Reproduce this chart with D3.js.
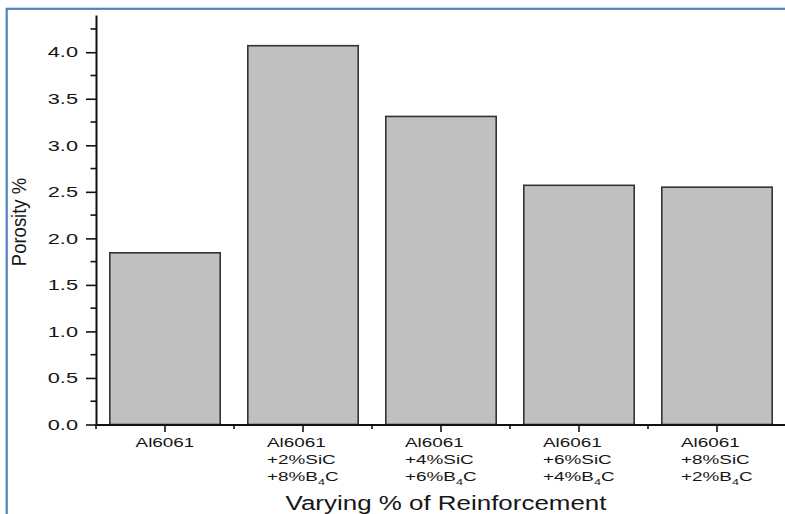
<!DOCTYPE html>
<html>
<head>
<meta charset="utf-8">
<script src="https://cdn.jsdelivr.net/npm/d3@7"></script>
<style>
  body { margin: 0; background: #fff; }
  text { font-family: "Liberation Sans", Arial, sans-serif; fill: #161616; }
</style>
</head>
<body>
<div id="chart"></div>
<script>
// data
const categories = ['Al6061', 'Al6061 +2%SiC +8%B4C', 'Al6061 +4%SiC +6%B4C', 'Al6061 +6%SiC +4%B4C', 'Al6061 +8%SiC +2%B4C'];
const porosity = [1.845, 4.07, 3.31, 2.57, 2.55];
const yTicks = [0, 0.5, 1.0, 1.5, 2.0, 2.5, 3.0, 3.5, 4.0];
const yMinorTicks = [0.25, 0.75, 1.25, 1.75, 2.25, 2.75, 3.25, 3.75, 4.25];
const yLabel = 'Porosity %';
const xLabel = 'Varying % of Reinforcement';

const width = 785, height = 514;
const margin = { left: 96, top: 15, right: -1, bottom: 89.5 };
const plotW = width - margin.left - margin.right;
const plotH = height - margin.top - margin.bottom;

const svg = d3.select('#chart')
  .append('svg')
  .attr('width', width)
  .attr('height', height);

// blue frame, cut off at the right and bottom
svg.append('rect')
  .attr('x', 6.7)
  .attr('y', 8.8)
  .attr('width', width + 20)
  .attr('height', height + 20)
  .attr('fill', 'none')
  .attr('stroke', '#4f81bd')
  .attr('stroke-width', 2.2);

const x = d3.scaleBand()
  .domain(categories)
  .range([0, plotW])
  .paddingInner(0.2)
  .paddingOuter(0.1);

const y = d3.scaleLinear()
  .domain([0, 4.4])
  .range([plotH, 0]);

const graph = svg.append('g')
  .attr('transform', `translate(${margin.left}, ${margin.top})`);

// bars
graph.selectAll('rect.bar')
  .data(porosity)
  .join('rect')
  .attr('class', 'bar')
  .attr('x', (d, i) => x(categories[i]))
  .attr('y', d => y(d))
  .attr('width', x.bandwidth())
  .attr('height', d => y(0) - y(d))
  .attr('fill', '#c0c0c0')
  .attr('stroke', '#333')
  .attr('stroke-width', 1.6);

// y axis
const yAxisGroup = graph.append('g')
  .call(d3.axisLeft(y).tickValues(yTicks).tickSize(10).tickSizeOuter(0).tickFormat(''))
  .call(g => g.selectAll('line').attr('stroke', '#111').attr('stroke-width', 1.6))
  .call(g => g.select('.domain').attr('stroke', '#111').attr('stroke-width', 2));

yAxisGroup.selectAll('.minor')
  .data(yMinorTicks)
  .join('line')
  .attr('class', 'minor')
  .attr('x1', -5.5)
  .attr('x2', 0)
  .attr('y1', d => y(d))
  .attr('y2', d => y(d))
  .attr('stroke', '#111')
  .attr('stroke-width', 1.6);

const tickSx = 1.5;
yAxisGroup.selectAll('.ylab')
  .data(yTicks)
  .join('text')
  .attr('class', 'ylab')
  .attr('transform', d => `translate(-18, ${y(d)}) scale(${tickSx}, 1)`)
  .attr('dy', '0.36em')
  .attr('text-anchor', 'end')
  .attr('font-size', 14.5)
  .text(d3.format('.1f'));

// x axis: major ticks at the bars, minor ticks between them
const xAxisGroup = graph.append('g')
  .attr('transform', `translate(0, ${plotH})`)
  .call(d3.axisBottom(x).tickSize(7.5).tickSizeOuter(0).tickFormat(''))
  .call(g => g.selectAll('line').attr('stroke', '#111').attr('stroke-width', 1.6))
  .call(g => g.select('.domain').attr('stroke', '#111').attr('stroke-width', 2));

xAxisGroup.selectAll('.minor')
  .data(d3.range(categories.length + 1))
  .join('line')
  .attr('class', 'minor')
  .attr('x1', i => i * x.step())
  .attr('x2', i => i * x.step())
  .attr('y1', 0)
  .attr('y2', 4.5)
  .attr('stroke', '#111')
  .attr('stroke-width', 1.6);

// category labels, stacked lines, block centred under the tick
const catSx = 1.4;
const lineH = 17.5;
categories.forEach((c, i) => {
  const g = xAxisGroup.append('g');
  const t = g.append('text')
    .attr('font-size', 13.5)
    .attr('text-anchor', 'start');
  c.split(' ').forEach((line, j) => {
    const m = line.match(/^(.*B)(\d)(C)$/);
    if (m) {
      t.append('tspan').attr('x', 0).attr('y', j * lineH).text(m[1]);
      t.append('tspan').attr('font-size', 9).attr('dy', 4).text(m[2]);
      t.append('tspan').attr('dy', -4).text(m[3]);
    } else {
      t.append('tspan').attr('x', 0).attr('y', j * lineH).text(line);
    }
  });
  const w = t.node().getBBox().width * catSx;
  g.attr('transform', `translate(${x(c) + x.bandwidth() / 2 - w / 2}, 22) scale(${catSx}, 1)`);
});

// axis titles
svg.append('text')
  .attr('transform', `translate(${margin.left + plotW / 2 + 5}, 510) scale(1.33, 1)`)
  .attr('text-anchor', 'middle')
  .attr('font-size', 19.5)
  .text(xLabel);

svg.append('text')
  .attr('transform', 'translate(25.5, 222) scale(1, 0.88) rotate(-90)')
  .attr('text-anchor', 'middle')
  .attr('font-size', 21)
  .text(yLabel);
</script>
</body>
</html>
